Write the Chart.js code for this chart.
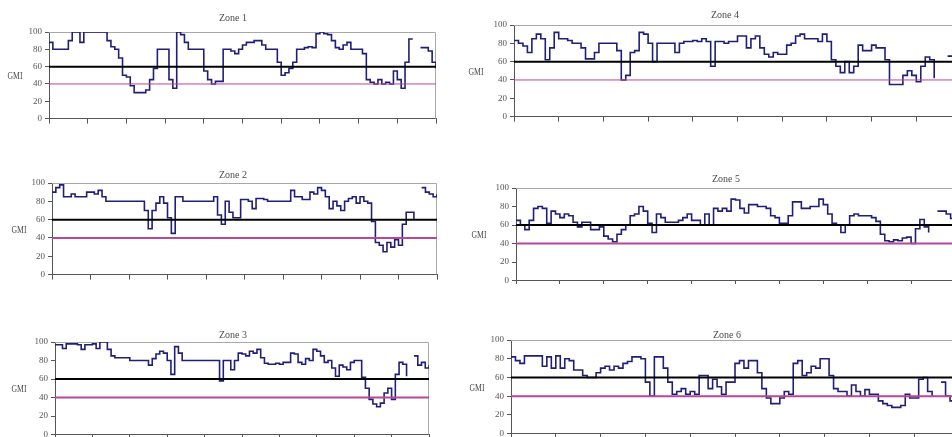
<!DOCTYPE html>
<html>
<head>
<meta charset="utf-8">
<script src="https://cdn.jsdelivr.net/npm/chart.js@4/dist/chart.umd.min.js"></script>
<style>
  body { margin: 0; background: #fff; width: 952px; height: 437px; overflow: hidden; position: relative; }
  .wrap { position: absolute; overflow: hidden; }
  canvas { display: block; }
</style>
</head>
<body>
<script>
// GMI readings, 101 samples per zone (null = no reading)
const zone1 = [88,80,80,80,80,90,100,100,88,100,100,100,100,100,100,90,83,80,70,50,48,38,30,30,30,33,45,58,80,80,80,45,35,100,97,88,80,80,80,80,55,45,40,43,43,80,80,78,75,80,85,88,88,90,90,85,80,80,80,65,50,53,58,65,80,80,82,83,82,98,100,98,97,90,82,80,85,88,80,80,80,75,45,42,40,45,40,42,40,55,45,35,65,92,92,null,82,82,78,65,58];
const zone2 = [90,95,98,85,85,88,85,85,85,90,90,88,92,85,80,80,80,80,80,80,80,80,80,80,70,50,70,78,85,78,62,45,85,85,80,80,80,80,80,80,80,80,85,65,55,80,68,62,62,82,82,80,72,83,83,82,80,80,80,80,80,80,92,85,85,82,82,90,88,95,92,85,72,80,75,70,80,83,85,78,85,80,78,58,35,32,25,35,30,38,32,55,68,68,60,null,95,90,88,85,88];
const zone3 = [97,97,93,98,98,98,97,92,97,97,98,93,100,100,92,85,83,83,83,83,80,80,80,80,80,75,82,87,90,88,80,65,95,88,80,80,80,80,80,80,80,80,80,80,58,80,80,70,80,88,87,85,90,88,92,83,77,76,76,77,76,78,78,88,87,78,76,82,80,92,90,85,78,80,72,63,75,73,70,78,80,80,62,50,38,33,30,34,45,50,38,65,78,76,63,null,85,75,78,72,75];
const zone4 = [83,80,77,70,85,90,85,62,75,92,85,85,83,80,80,75,63,63,70,80,80,80,80,72,40,45,70,72,92,90,80,60,80,80,80,80,70,80,82,82,83,82,85,82,55,82,82,80,82,82,88,88,75,85,88,75,68,65,70,68,68,78,80,88,90,85,85,85,82,90,82,62,55,48,60,48,55,78,72,72,78,75,75,62,35,35,35,45,50,45,38,55,65,62,42,null,null,66,66,68,68];
const zone5 = [65,60,55,65,78,80,78,62,75,72,68,72,70,63,58,63,63,55,55,58,48,45,42,50,55,60,70,72,80,75,62,52,72,68,63,63,63,65,68,72,65,65,60,72,60,78,75,78,75,88,87,78,73,82,82,80,80,78,70,68,62,62,70,85,85,78,78,80,80,88,82,72,62,60,52,60,70,72,70,70,70,68,64,50,43,42,44,43,46,47,40,56,66,58,52,null,75,75,72,67,65];
const zone6 = [82,78,75,83,83,83,83,72,82,70,83,70,80,78,68,68,62,60,60,65,70,72,68,72,70,75,77,82,82,80,55,40,82,82,70,55,42,45,48,42,45,42,62,62,48,58,50,42,55,55,75,78,70,78,78,65,48,38,32,32,38,45,42,75,78,62,65,72,70,80,80,62,48,45,45,40,52,45,40,47,42,42,35,32,30,28,28,30,42,38,38,58,60,45,40,null,55,40,35,28,30];

const zoneNames = ["Zone 1", "Zone 2", "Zone 3", "Zone 4", "Zone 5", "Zone 6"];
const zoneValues = [zone1, zone2, zone3, zone4, zone5, zone6];
const yTicks = [0, 20, 40, 60, 80, 100];
const upperLimit = 60;
const lowerLimit = 40;

// page placement of each small chart
const boxes = [
  { left: 0,   width: 466, plot: [49, 32, 436, 121],  titleY: 18,  gmiX: 15,  lowW: 1 },
  { left: 0,   width: 466, plot: [52, 183, 437, 277], titleY: 175, gmiX: 19,  lowW: 2 },
  { left: 0,   width: 466, plot: [55, 342, 429, 437], titleY: 335, gmiX: 19,  lowW: 2 },
  { left: 466, width: 518, plot: [514, 25, 961, 119], titleY: 15,  gmiX: 476, lowW: 1 },
  { left: 466, width: 520, plot: [516, 188, 955, 283], titleY: 179, gmiX: 479, lowW: 2, clip: 284 },
  { left: 466, width: 522, plot: [511, 340, 959, 436], titleY: 335, gmiX: 477, lowW: 2 }
];

const padTop = 24;
const tickH = 6;

const zoneText = {
  id: 'zoneText',
  beforeDatasetsDraw(chart, args, opts) {
    const c = chart.ctx;
    const a = chart.chartArea;
    c.save();
    c.strokeStyle = '#a8a8a8';
    c.lineWidth = 1;
    c.beginPath();
    c.moveTo(a.left, a.top + 0.5);
    c.lineTo(a.right - 0.5, a.top + 0.5);
    c.lineTo(a.right - 0.5, a.bottom);
    c.stroke();
    c.restore();
  },
  afterDraw(chart, args, opts) {
    const c = chart.ctx;
    const a = chart.chartArea;
    c.save();
    c.fillStyle = '#4a4a4a';
    c.textAlign = 'center';
    c.textBaseline = 'middle';
    c.font = '10px "Liberation Serif"';
    c.fillText(opts.title, chart.width / 2, opts.titleY);
    c.translate(opts.gmiX, (a.top + a.bottom) / 2 + 1);
    c.scale(0.7, 1);
    c.font = '11px "Liberation Serif"';
    c.fillText('GMI', 0, 0);
    c.restore();
  }
};

boxes.forEach((b, i) => {
  const [l, t, r, btm] = b.plot;
  const top = t - padTop;
  const height = padTop + (btm - t) + tickH;

  const wrap = document.createElement('div');
  wrap.className = 'wrap';
  wrap.style.left = b.left + 'px';
  wrap.style.top = top + 'px';
  wrap.style.width = b.width + 'px';
  wrap.style.height = ((b.clip ? b.clip : top + height) - top) + 'px';
  const canvas = document.createElement('canvas');
  canvas.width = b.width;
  canvas.height = height;
  wrap.appendChild(canvas);
  document.body.appendChild(wrap);

  const values = zoneValues[i];
  const series = values.map((v, k) => ({ x: k, y: v }));
  const first = 0, last = values.length - 1;

  new Chart(canvas.getContext('2d'), {
    type: 'line',
    data: {
      datasets: [
        {
          data: [{ x: first, y: upperLimit }, { x: last, y: upperLimit }],
          borderColor: '#000',
          borderWidth: 2,
          pointRadius: 0
        },
        {
          data: [{ x: first, y: lowerLimit }, { x: last, y: lowerLimit }],
          borderColor: '#b8469b',
          borderWidth: b.lowW,
          pointRadius: 0
        },
        {
          data: series,
          borderColor: '#1f1f78',
          backgroundColor: '#1f1f78',
          borderWidth: 1.6,
          stepped: true,
          spanGaps: false,
          pointRadius: 0,
          pointHoverRadius: 0
        }
      ]
    },
    options: {
      responsive: false,
      animation: false,
      devicePixelRatio: 1,
      layout: { padding: { top: padTop, left: 0, right: b.left + b.width - r, bottom: 0 } },
      plugins: {
        legend: { display: false },
        tooltip: { enabled: false },
        zoneText: { title: zoneNames[i], titleY: b.titleY - top, gmiX: b.gmiX - b.left }
      },
      scales: {
        x: {
          type: 'linear',
          min: first,
          max: last,
          ticks: { display: false, stepSize: 10 },
          grid: { drawOnChartArea: false, tickLength: 5, color: '#555' },
          border: { color: '#555' },
          afterFit(s) { s.height = tickH; }
        },
        y: {
          min: yTicks[0],
          max: yTicks[yTicks.length - 1],
          ticks: {
            stepSize: yTicks[1] - yTicks[0],
            color: '#555',
            padding: 3,
            font: { family: '"Liberation Serif"', size: 9 }
          },
          grid: { drawOnChartArea: false, tickLength: 4, color: '#555' },
          border: { color: '#555' },
          afterFit(s) { s.width = l - b.left; }
        }
      }
    },
    plugins: [zoneText]
  });
});
</script>
</body>
</html>
